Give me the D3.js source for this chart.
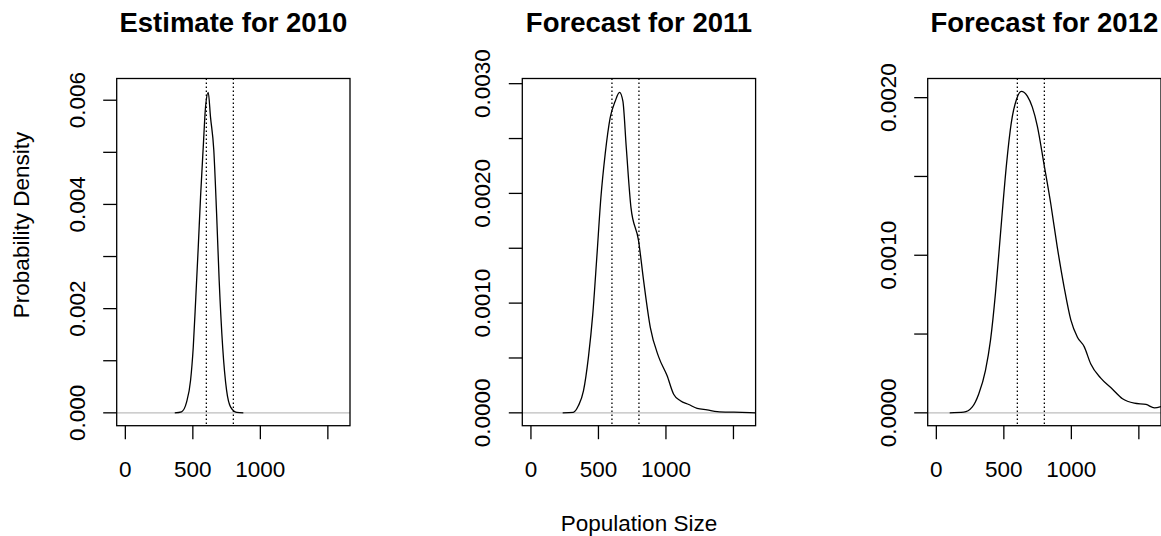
<!DOCTYPE html>
<html>
<head>
<meta charset="utf-8">
<script src="https://cdn.jsdelivr.net/npm/d3@7"></script>
<style>
  body { margin: 0; background: #fff; }
  svg text { font-family: "Liberation Sans", Arial, Helvetica, sans-serif; fill: #000; }
</style>
</head>
<body>
<div id="chart"></div>
<script>
// panel titles
const titles = ["Estimate for 2010", "Forecast for 2011", "Forecast for 2012"];

// density curves (population size, density)
const x2010 = [366, 416, 453, 483, 503, 522, 540, 557, 577, 594, 614, 631, 655, 676, 695, 721, 750, 780, 825, 874];
const y2010 = [0, 0.00002, 0.0002, 0.00062, 0.00126, 0.00222, 0.00318, 0.00414, 0.0051, 0.00587, 0.00615, 0.00567, 0.00505, 0.00382, 0.00254, 0.00126, 0.00043, 0.00011, 0.00001, 0];

const x2011 = [235, 314, 352, 389, 426, 458, 488, 518, 550, 587, 624, 656, 681, 706, 741, 797, 835, 884, 946, 1008, 1057, 1107, 1169, 1231, 1305, 1380, 1503, 1664];
const y2011 = [0, 0.000005, 0.000066, 0.0002, 0.00051, 0.0009, 0.00142, 0.00196, 0.00236, 0.00269, 0.00284, 0.00292, 0.00284, 0.00242, 0.00187, 0.00157, 0.0012, 0.00078, 0.00051, 0.00034, 0.00017, 0.00011, 0.000076, 0.00004, 0.000027, 0.000012, 0.000006, 0];

const x2012 = [99, 203, 265, 314, 364, 401, 438, 463, 488, 520, 555, 594, 629, 674, 711, 748, 797, 847, 896, 946, 996, 1045, 1095, 1144, 1218, 1305, 1379, 1466, 1553, 1615, 1664];
const y2012 = [0, 0.000004, 0.000036, 0.00012, 0.00027, 0.00046, 0.00076, 0.00101, 0.00127, 0.00158, 0.00184, 0.00199, 0.00204, 0.00201, 0.00194, 0.00182, 0.00158, 0.00133, 0.00105, 0.0008, 0.00059, 0.00048, 0.00042, 0.00031, 0.00022, 0.00015, 0.000089, 0.000061, 0.000053, 0.000032, 0.00004];

// reference lines
const refLines = [600, 800];

// axis ticks
const xTicks = [0, 500, 1000, 1500];
const xLabels = ["0", "500", "1000", ""];
const yTicks2010 = [0, 0.001, 0.002, 0.003, 0.004, 0.005, 0.006];
const yTicks2011 = [0, 0.0005, 0.001, 0.0015, 0.002, 0.0025, 0.003];
const yTicks2012 = [0, 0.0005, 0.001, 0.0015, 0.002];
const yLabels2010 = ["0.000", "", "0.002", "", "0.004", "", "0.006"];
const yLabels2011 = ["0.0000", "", "0.0010", "", "0.0020", "", "0.0030"];
const yLabels2012 = ["0.0000", "", "0.0010", "", "0.0020"];

const panels = [
  { title: titles[0], xs: x2010, ys: y2010, yTicks: yTicks2010, yLabels: yLabels2010, ymax: 0.00617, left: 116.7 },
  { title: titles[1], xs: x2011, ys: y2011, yTicks: yTicks2011, yLabels: yLabels2011, ymax: 0.00293, left: 522.3 },
  { title: titles[2], xs: x2012, ys: y2012, yTicks: yTicks2012, yLabels: yLabels2012, ymax: 0.00204, left: 927.7 }
];

const W = 1161, H = 536;
const boxW = 233.3, boxTop = 78.5, boxBottom = 425.7;
const tick = 13.5;

const svg = d3.select("#chart").append("svg")
  .attr("width", W).attr("height", H);

panels.forEach(p => {
  const x = d3.scaleLinear().domain([-64, 1664]).range([p.left, p.left + boxW]);
  const ext = p.ymax * 0.04;
  const y = d3.scaleLinear().domain([-ext, p.ymax + ext]).range([boxBottom, boxTop]);
  const g = svg.append("g");

  // zero line
  g.append("line")
    .attr("x1", p.left).attr("x2", p.left + boxW)
    .attr("y1", y(0)).attr("y2", y(0))
    .attr("stroke", "#bebebe").attr("stroke-width", 1.3);

  // dotted reference lines
  g.selectAll(".ref").data(refLines).enter().append("line")
    .attr("x1", d => x(d)).attr("x2", d => x(d))
    .attr("y1", boxTop).attr("y2", boxBottom)
    .attr("stroke", "#000").attr("stroke-width", 1.3)
    .attr("stroke-dasharray", "1.5,2.5");

  // density curve
  const line = d3.line()
    .x(d => x(d[0])).y(d => y(d[1]))
    .curve(d3.curveMonotoneX);
  g.append("path")
    .datum(p.xs.map((v, i) => [v, p.ys[i]]))
    .attr("d", line)
    .attr("fill", "none").attr("stroke", "#000").attr("stroke-width", 1.3);

  // box
  g.append("rect")
    .attr("x", p.left).attr("y", boxTop)
    .attr("width", boxW).attr("height", boxBottom - boxTop)
    .attr("fill", "none").attr("stroke", "#000").attr("stroke-width", 1.3);

  // x axis
  g.selectAll(".xt").data(xTicks).enter().append("line")
    .attr("x1", d => x(d)).attr("x2", d => x(d))
    .attr("y1", boxBottom).attr("y2", boxBottom + tick)
    .attr("stroke", "#000").attr("stroke-width", 1.3);
  g.selectAll(".xl").data(xTicks).enter().append("text")
    .attr("x", d => x(d)).attr("y", 476.5)
    .attr("text-anchor", "middle")
    .style("font-size", "22.5px")
    .text((d, i) => xLabels[i]);

  // y axis
  g.selectAll(".yt").data(p.yTicks).enter().append("line")
    .attr("x1", p.left - tick).attr("x2", p.left)
    .attr("y1", d => y(d)).attr("y2", d => y(d))
    .attr("stroke", "#000").attr("stroke-width", 1.3);
  g.selectAll(".yl").data(p.yTicks).enter().append("text")
    .attr("transform", d => `translate(${p.left - 32},${y(d)}) rotate(-90)`)
    .attr("text-anchor", "middle")
    .style("font-size", "22.5px")
    .text((d, i) => p.yLabels[i]);

  // title
  g.append("text")
    .attr("x", p.left + boxW / 2).attr("y", 32)
    .attr("text-anchor", "middle")
    .style("font-size", "27.5px").style("font-weight", "bold")
    .text(p.title);
});

// shared axis labels
svg.append("text")
  .attr("x", 639).attr("y", 530.5)
  .attr("text-anchor", "middle")
  .style("font-size", "22.5px")
  .text("Population Size");

svg.append("text")
  .attr("transform", "translate(29,225) rotate(-90)")
  .attr("text-anchor", "middle")
  .style("font-size", "22.5px")
  .text("Probability Density");
</script>
</body>
</html>
